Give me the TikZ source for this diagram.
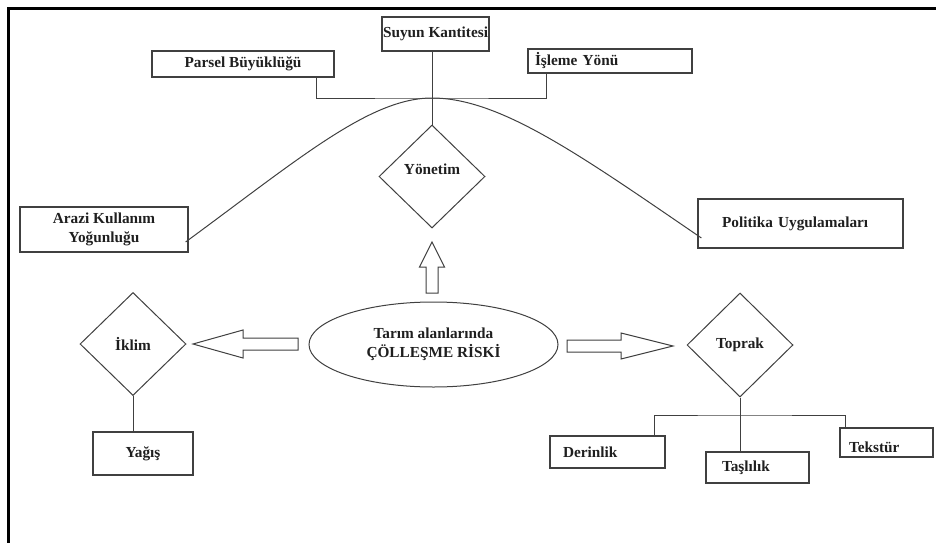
\documentclass[tikz,border=0pt]{standalone}
\usepackage{fontspec}
\setmainfont{Liberation Serif}
\usetikzlibrary{shapes.geometric,calc}
\begin{document}
\begin{tikzpicture}[x=1pt,y=-1pt,
  every node/.style={font=\fontsize{15.3}{18.5}\selectfont\bfseries, text=black!88},
  box/.style={draw=black!75, line width=1.2pt, rectangle, inner sep=0pt, align=center},
  dia/.style={draw=black!75, line width=1pt, diamond, inner sep=0pt, minimum width=106pt, minimum height=103pt},
  oval/.style={draw=black!75, line width=1pt, ellipse, inner sep=0pt, align=center},
  conn/.style={draw=black!75, line width=1pt},
  blockarrow/.style={draw=black!75, line width=1pt, fill=white, line join=miter}]
\useasboundingbox (0,0) rectangle (936,543);
% frame
\draw[line width=3pt] (936,9) -- (8,9) -- (8,543);
% boxes
\node[box, minimum width=182pt, minimum height=26pt] (parsel) at (243,64) {Parsel Büyüklüğü};
\node[box, minimum width=107pt, minimum height=34pt] (suyun) at (435.5,34) {Suyun Kantitesi};
\node[box, text width=150pt, inner xsep=7pt, align=left, minimum height=24pt] (isleme) at (610,61) {İşleme Yönü};
\node[box, minimum width=168pt, minimum height=45pt] (arazi) at (104,229.5) {Arazi Kullanım\\Yoğunluğu};
\node[box, text width=157pt, inner xsep=24pt, align=left, minimum height=49pt] (politika) at (800.5,223.5) {Politika Uygulamaları};
\node[dia] (yonetim) at (432,176.5) {\smash{\raisebox{2.5pt}{Yönetim}}};
\node[dia] (iklim) at (133,344) {İklim};
\node[dia, minimum height=104pt] (toprak) at (740,345) {Toprak};
\node[oval, minimum width=249pt, minimum height=85pt] (risk) at (433.5,344.5) {Tarım alanlarında\\ÇÖLLEŞME RİSKİ};
\node[box, minimum width=100pt, minimum height=43pt] (yagis) at (143,453.5) {Yağış};
\node[box, text width=89pt, inner xsep=13pt, align=left, minimum height=32pt] (derinlik) at (607.5,452) {Derinlik};
\node[box, text width=71pt, inner xsep=16pt, align=left, minimum height=31pt] (taslilik) at (757.5,467.5) {Taşlılık};
\node[box, text width=75pt, inner xsep=9pt, align=left, minimum height=29pt] (tekstur) at (886.5,442.5) {\smash{\raisebox{-9.5pt}{Tekstür}}};
% hubs
\coordinate (hub) at (432,98);
\coordinate (thub) at (740,415);
% top connectors
\draw[conn] ($(parsel.south east)+(-18,0)$) |- (hub) -| ($(isleme.south west)+(19,0)$);
\draw[conn] (yonetim.north |- suyun.south) -- (yonetim.north);
\draw[conn] ($(arazi.east)+(-3,12.5)$) .. controls (300,158) and (370,98) .. (hub)
  .. controls (500,98) and (580,155) .. ($(politika.west)+(4,14.5)$);
% iklim - yagis
\draw[conn] (iklim.south) -- (iklim.south |- yagis.north);
% toprak tree
\draw[conn] (toprak.south) -- (thub);
\draw[conn] ($(derinlik.north east)+(-11,0)$) |- (thub) -| ($(tekstur.north west)+(6,0)$);
\draw[conn] (thub) -- (toprak.south |- taslilik.north);
% block arrows
\draw[blockarrow] (298,338) -- (243,338) -- (243,330) -- (193,344) -- (243,358) -- (243,350) -- (298,350) -- cycle;
\draw[blockarrow] (426,293) -- (426,267) -- (419.5,267) -- (432,242) -- (444.5,267) -- (438,267) -- (438,293) -- cycle;
\draw[blockarrow] (567,340) -- (621,340) -- (621,333) -- (673,346) -- (621,359) -- (621,352) -- (567,352) -- cycle;
\end{tikzpicture}
\end{document}
